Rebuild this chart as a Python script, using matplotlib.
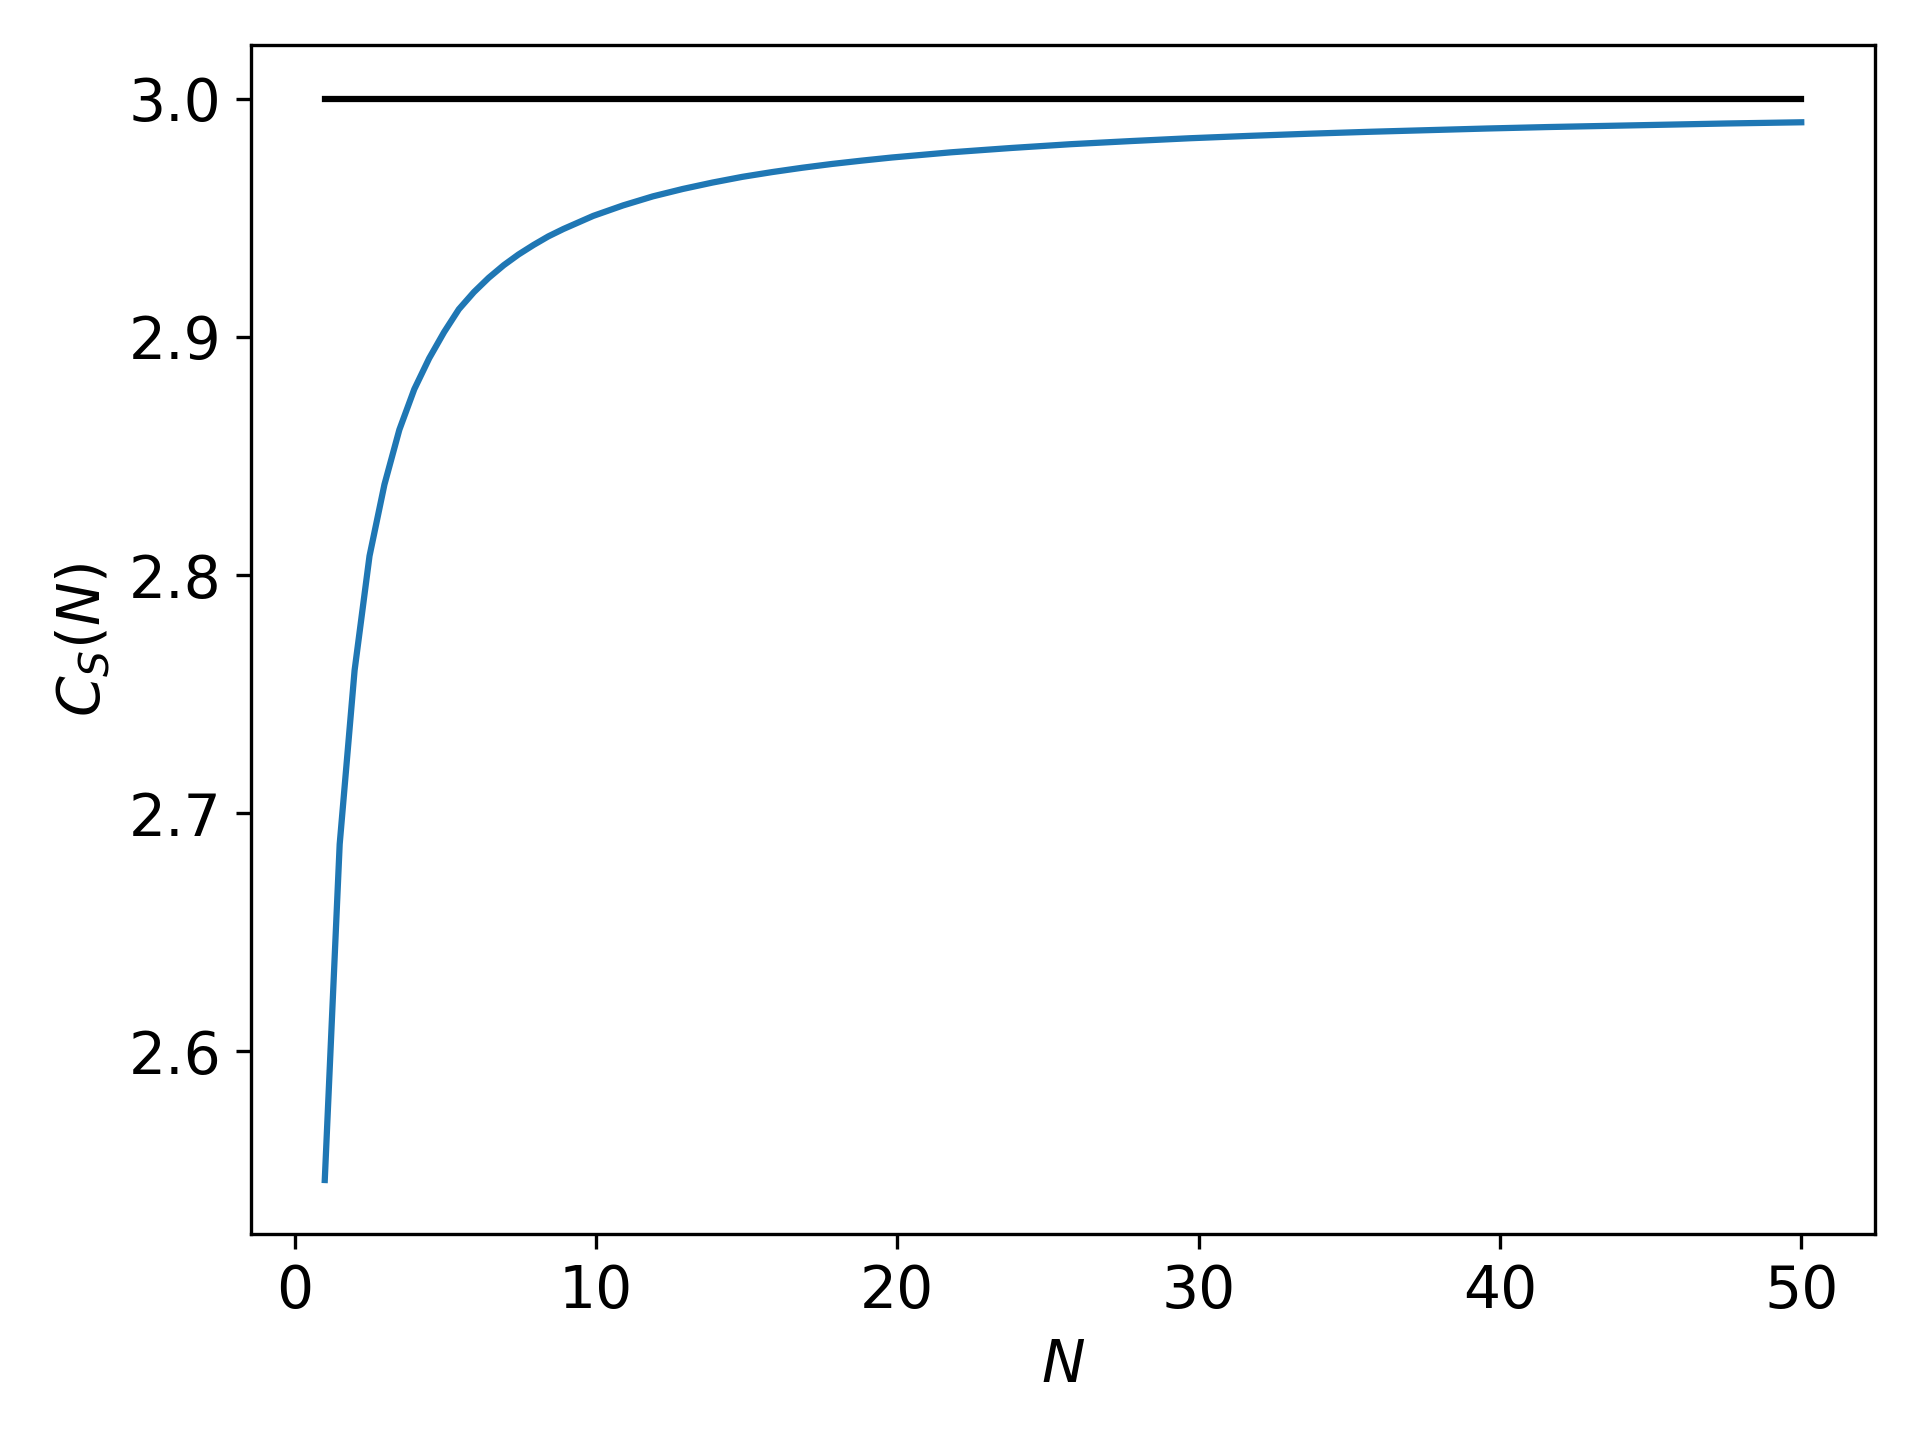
import numpy as np
import matplotlib
matplotlib.use('Agg')
import matplotlib.pyplot as plt

plt.rcParams['font.size'] = 14

# values
n_vals = [1.0, 1.495, 1.99, 2.485, 2.98, 3.475, 3.97, 4.465, 4.96, 5.45,
          5.95, 6.44, 6.94, 7.43, 7.93, 8.42, 8.92, 9.91, 10.9, 11.89,
          12.88, 13.87, 14.86, 15.85, 16.84, 17.83, 18.82, 19.81, 21.79, 23.77,
          25.75, 27.73, 29.71, 31.69, 33.67, 35.65, 37.63, 39.61, 41.59, 43.57,
          45.55, 47.53, 50.0]
cs_vals = [2.546, 2.687, 2.760, 2.808, 2.838, 2.861, 2.878, 2.891, 2.902, 2.9116,
           2.9188, 2.9248, 2.9301, 2.9346, 2.9386, 2.9422, 2.9453, 2.9508, 2.9552, 2.9590,
           2.9621, 2.9648, 2.9672, 2.9692, 2.9710, 2.9726, 2.9740, 2.9753, 2.9775, 2.9793,
           2.9809, 2.9822, 2.9834, 2.9844, 2.9853, 2.9861, 2.9868, 2.9875, 2.9881, 2.9886,
           2.9891, 2.9896, 2.9901]
limit_n = [1.0, 50.0]
limit_val = [3.0, 3.0]

fig, ax = plt.subplots(figsize=(6.4, 4.8), dpi=300)
fig.subplots_adjust(left=0.1307, right=0.9766, top=0.969, bottom=0.143)
ax.plot(limit_n, limit_val, color='black', linewidth=1.5)
ax.plot(n_vals, cs_vals, color='C0', linewidth=1.5)
ax.set_xlabel('$N$')
ax.set_ylabel('$C_S(N)$')
ax.set_yticks([2.6, 2.7, 2.8, 2.9, 3.0])
fig.savefig('out.png', dpi=300)
